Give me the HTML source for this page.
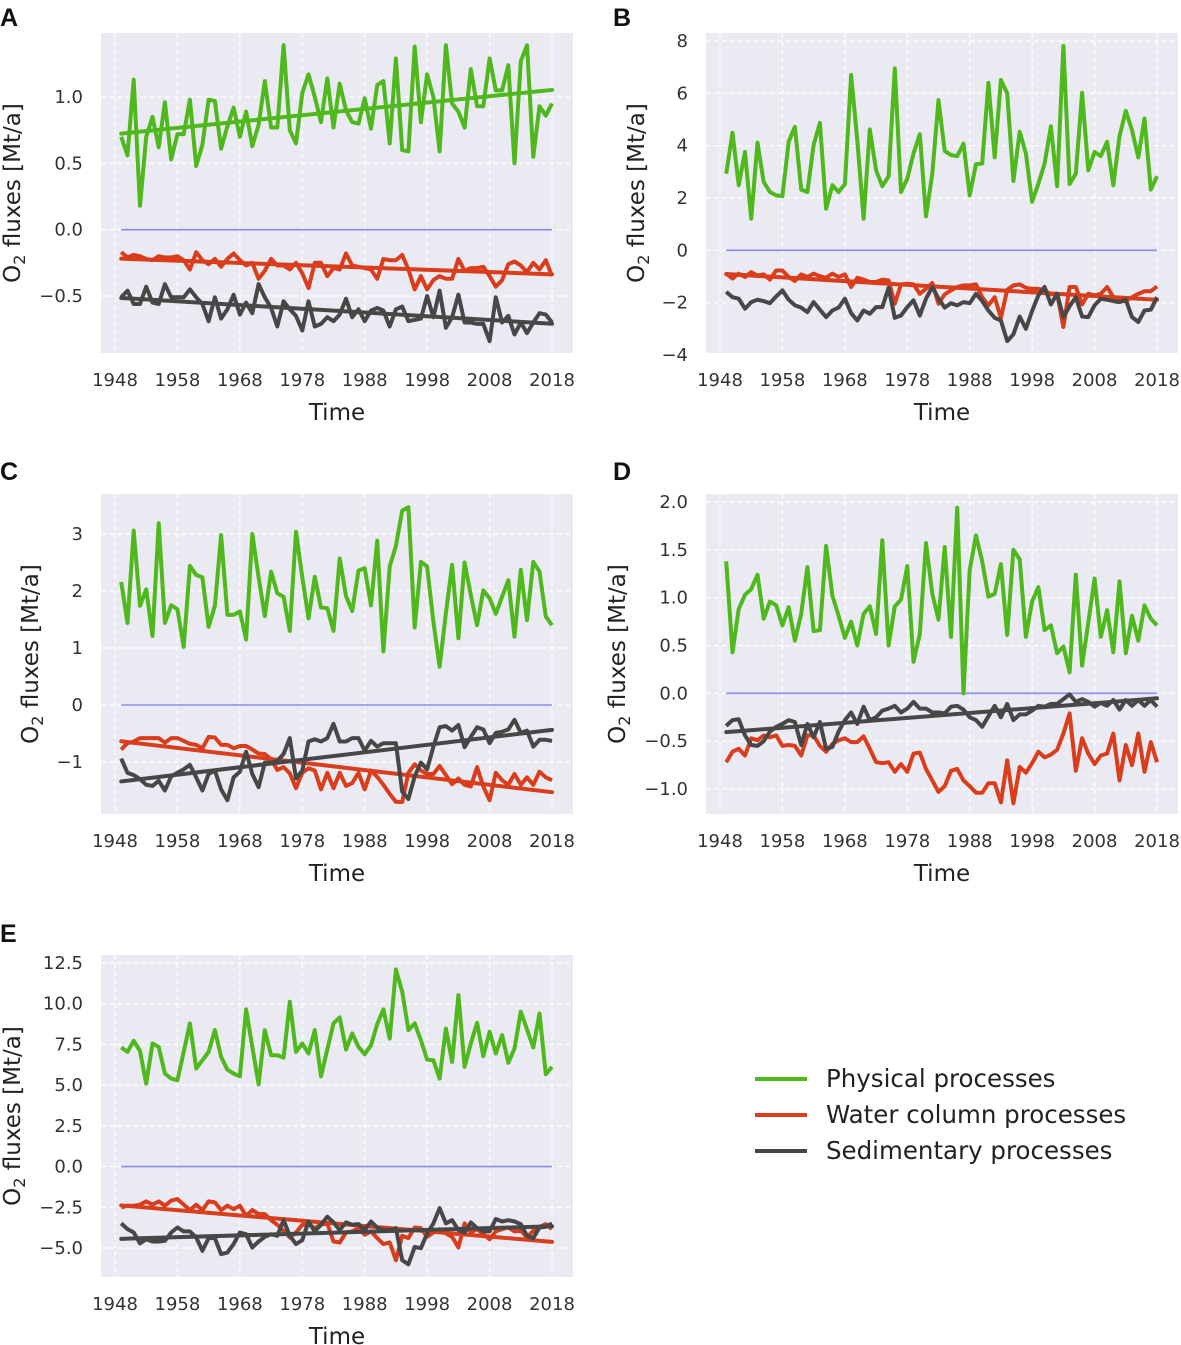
<!DOCTYPE html>
<html><head><meta charset="utf-8"><style>
body{margin:0;background:#fff;}
svg{display:block;font-family:"DejaVu Sans","Liberation Sans",sans-serif;}
</style></head><body>
<svg id="fig" width="1181" height="1345" viewBox="0 0 1181 1345" xmlns="http://www.w3.org/2000/svg"></svg>
<script>
const startYear = 1949;
const nYears = 70;
const xTickYears = [1948,1958,1968,1978,1988,1998,2008,2018];

const aPhysical = [0.70,0.56,1.13,0.18,0.70,0.85,0.62,0.96,0.53,0.72,0.72,0.98,0.48,0.64,0.98,0.97,0.61,0.78,0.92,0.70,0.89,0.63,0.79,1.12,0.77,0.77,1.39,0.75,0.65,1.03,1.17,1.00,0.81,1.14,0.77,1.10,0.90,0.81,0.80,0.99,0.76,1.09,1.12,0.65,1.29,0.60,0.59,1.38,0.81,1.17,1.00,0.59,1.39,0.95,0.89,0.77,1.21,0.93,0.93,1.29,1.05,1.05,1.24,0.50,1.27,1.39,0.55,0.93,0.86,0.95];
const aWater = [-0.17,-0.21,-0.19,-0.20,-0.22,-0.23,-0.20,-0.21,-0.21,-0.20,-0.23,-0.30,-0.17,-0.23,-0.26,-0.22,-0.28,-0.22,-0.18,-0.23,-0.27,-0.25,-0.37,-0.31,-0.22,-0.27,-0.27,-0.30,-0.25,-0.33,-0.44,-0.25,-0.25,-0.35,-0.29,-0.30,-0.18,-0.27,-0.28,-0.29,-0.30,-0.37,-0.22,-0.23,-0.23,-0.19,-0.30,-0.45,-0.35,-0.45,-0.38,-0.35,-0.37,-0.37,-0.22,-0.31,-0.29,-0.29,-0.28,-0.35,-0.43,-0.38,-0.26,-0.24,-0.27,-0.32,-0.25,-0.30,-0.23,-0.35];
const aSediment = [-0.51,-0.46,-0.56,-0.56,-0.43,-0.55,-0.56,-0.41,-0.51,-0.51,-0.51,-0.45,-0.51,-0.56,-0.69,-0.51,-0.67,-0.60,-0.49,-0.64,-0.55,-0.63,-0.41,-0.51,-0.59,-0.73,-0.54,-0.60,-0.65,-0.76,-0.54,-0.73,-0.71,-0.66,-0.69,-0.64,-0.52,-0.66,-0.60,-0.69,-0.61,-0.59,-0.61,-0.73,-0.60,-0.58,-0.69,-0.68,-0.67,-0.50,-0.66,-0.46,-0.74,-0.66,-0.49,-0.70,-0.70,-0.71,-0.71,-0.84,-0.51,-0.70,-0.65,-0.79,-0.70,-0.78,-0.70,-0.63,-0.64,-0.70];

const bPhysical = [2.93,4.49,2.49,3.76,1.21,4.11,2.61,2.23,2.10,2.07,4.15,4.72,2.32,2.23,4.02,4.87,1.59,2.49,2.23,2.53,6.70,4.21,1.21,4.62,3.06,2.45,2.83,6.95,2.23,2.74,3.70,4.44,1.30,2.93,5.74,3.80,3.64,3.60,4.08,2.10,3.29,3.32,6.40,3.55,6.51,6.00,2.65,4.53,3.70,1.85,2.55,3.32,4.74,2.45,7.81,2.53,2.93,6.02,3.06,3.76,3.60,4.15,2.49,4.36,5.33,4.59,3.55,5.04,2.32,2.83];
const bWater = [-0.89,-1.08,-0.89,-1.02,-0.83,-0.96,-0.92,-1.12,-0.77,-0.77,-1.02,-1.17,-0.92,-1.02,-0.89,-0.99,-1.05,-0.89,-1.02,-0.92,-1.40,-1.05,-1.12,-1.21,-1.21,-1.12,-1.15,-2.04,-1.30,-1.28,-1.30,-1.66,-1.47,-1.25,-2.04,-1.68,-1.53,-1.40,-1.34,-1.34,-1.30,-1.79,-2.10,-1.79,-2.58,-1.51,-1.34,-1.30,-1.43,-1.47,-1.47,-1.53,-1.68,-1.66,-2.93,-1.40,-1.40,-2.07,-1.66,-1.72,-1.66,-1.40,-1.79,-1.94,-1.94,-1.79,-1.66,-1.56,-1.56,-1.38];
const bSediment = [-1.59,-1.79,-1.85,-2.23,-1.98,-1.89,-1.94,-2.02,-1.76,-1.53,-1.89,-2.10,-2.19,-2.36,-1.98,-2.27,-2.55,-2.30,-2.19,-1.85,-2.40,-2.68,-2.30,-2.42,-2.17,-2.17,-1.43,-2.58,-2.49,-2.17,-1.91,-2.49,-1.85,-1.40,-1.85,-2.19,-2.02,-2.10,-1.98,-2.02,-1.66,-1.94,-2.30,-2.58,-2.68,-3.47,-3.21,-2.53,-3.00,-2.32,-1.72,-1.40,-2.07,-1.66,-2.55,-2.14,-1.79,-2.53,-2.55,-2.10,-1.85,-1.89,-1.94,-1.98,-1.89,-2.55,-2.74,-2.30,-2.27,-1.79];

const cPhysical = [2.16,1.44,3.06,1.74,2.03,1.21,3.19,1.44,1.75,1.68,1.02,2.44,2.28,2.24,1.37,1.74,2.98,1.58,1.58,1.64,1.15,3.00,2.24,1.56,2.34,1.96,1.90,1.30,3.04,2.24,1.52,2.25,1.71,1.70,1.30,2.57,1.91,1.65,2.36,2.40,1.75,2.88,0.94,2.43,2.79,3.41,3.47,1.36,2.51,2.43,1.46,0.67,1.61,2.46,1.17,2.50,1.93,1.40,2.01,1.87,1.60,1.90,2.19,1.20,2.37,1.49,2.51,2.34,1.55,1.40];
const cWater = [-0.78,-0.67,-0.64,-0.58,-0.58,-0.58,-0.58,-0.66,-0.58,-0.58,-0.63,-0.68,-0.70,-0.76,-0.56,-0.57,-0.70,-0.70,-0.76,-0.72,-0.72,-0.78,-0.85,-0.86,-0.95,-1.14,-1.09,-1.20,-1.46,-1.19,-1.11,-1.15,-1.48,-1.19,-1.46,-1.19,-1.42,-1.37,-1.19,-1.48,-1.15,-1.26,-1.40,-1.56,-1.70,-1.70,-1.19,-1.04,-1.15,-1.21,-1.21,-1.07,-1.23,-1.39,-1.29,-1.40,-1.43,-1.09,-1.43,-1.67,-1.19,-1.32,-1.40,-1.21,-1.40,-1.27,-1.40,-1.17,-1.27,-1.32];
const cSediment = [-0.94,-1.19,-1.23,-1.30,-1.40,-1.42,-1.33,-1.50,-1.25,-1.19,-1.13,-1.05,-1.27,-1.50,-1.21,-1.15,-1.48,-1.67,-1.27,-1.17,-0.82,-1.21,-1.44,-1.01,-1.01,-0.98,-0.86,-0.58,-1.29,-1.15,-0.64,-0.60,-0.64,-0.58,-0.33,-0.64,-0.64,-0.58,-0.58,-0.80,-0.63,-0.73,-0.67,-0.67,-0.67,-1.52,-1.65,-1.25,-1.01,-1.13,-0.73,-0.39,-0.37,-0.45,-0.35,-0.74,-0.56,-0.39,-0.43,-0.67,-0.49,-0.47,-0.43,-0.26,-0.49,-0.45,-0.73,-0.61,-0.61,-0.63];

const dPhysical = [1.38,0.43,0.88,1.03,1.09,1.24,0.78,0.96,0.92,0.71,0.90,0.55,0.83,1.32,0.65,0.66,1.54,1.02,0.81,0.58,0.75,0.50,0.83,0.91,0.62,1.60,0.50,0.91,0.98,1.33,0.33,0.62,1.57,1.04,0.77,1.53,0.59,1.94,0.00,1.29,1.65,1.38,1.01,1.04,1.35,0.61,1.50,1.40,0.59,0.96,1.11,0.66,0.71,0.42,0.49,0.22,1.24,0.29,0.74,1.20,0.59,0.87,0.43,1.17,0.42,0.81,0.55,0.92,0.78,0.71];
const dWater = [-0.72,-0.61,-0.58,-0.65,-0.47,-0.49,-0.44,-0.46,-0.44,-0.55,-0.54,-0.55,-0.65,-0.44,-0.44,-0.55,-0.61,-0.53,-0.49,-0.47,-0.51,-0.51,-0.45,-0.58,-0.72,-0.73,-0.72,-0.82,-0.74,-0.82,-0.63,-0.62,-0.79,-0.91,-1.03,-0.97,-0.81,-0.79,-0.91,-0.97,-1.04,-1.04,-0.94,-0.94,-1.14,-0.70,-1.15,-0.77,-0.83,-0.73,-0.61,-0.67,-0.64,-0.59,-0.42,-0.21,-0.81,-0.47,-0.63,-0.74,-0.65,-0.63,-0.42,-0.91,-0.54,-0.75,-0.42,-0.82,-0.51,-0.72];
const dSediment = [-0.34,-0.28,-0.27,-0.44,-0.54,-0.55,-0.50,-0.40,-0.35,-0.32,-0.28,-0.30,-0.54,-0.32,-0.46,-0.30,-0.58,-0.56,-0.40,-0.28,-0.20,-0.32,-0.14,-0.28,-0.25,-0.18,-0.16,-0.13,-0.20,-0.16,-0.09,-0.16,-0.16,-0.20,-0.20,-0.21,-0.14,-0.13,-0.17,-0.25,-0.28,-0.35,-0.24,-0.13,-0.25,-0.11,-0.28,-0.22,-0.22,-0.18,-0.13,-0.14,-0.11,-0.11,-0.06,-0.01,-0.09,-0.06,-0.09,-0.14,-0.10,-0.13,-0.07,-0.17,-0.07,-0.13,-0.07,-0.13,-0.07,-0.14];

const ePhysical = [7.31,7.04,7.72,7.10,5.09,7.56,7.35,5.71,5.40,5.30,7.04,8.79,6.02,6.53,7.04,8.38,6.74,5.95,5.71,5.54,9.65,7.35,5.05,8.38,6.84,6.84,6.69,10.12,7.04,7.56,6.94,8.38,5.54,7.19,8.79,9.16,7.19,8.17,7.35,6.90,7.45,8.75,9.65,7.86,12.11,10.74,8.38,8.79,7.76,6.57,6.53,5.40,8.48,6.43,10.53,6.12,7.56,8.83,6.78,8.28,6.94,8.07,6.37,7.25,9.51,8.42,7.31,9.40,5.67,6.12];
const eWater = [-2.51,-2.40,-2.40,-2.34,-2.14,-2.34,-2.14,-2.40,-2.09,-1.99,-2.34,-2.67,-2.34,-2.67,-2.14,-2.20,-2.67,-2.40,-2.61,-2.40,-3.02,-2.67,-2.92,-2.92,-3.29,-3.57,-3.94,-4.35,-4.05,-3.57,-3.57,-3.78,-3.57,-3.49,-4.60,-4.66,-4.05,-3.98,-3.78,-4.19,-3.98,-4.39,-4.76,-4.66,-5.75,-4.25,-4.39,-3.74,-3.78,-4.31,-4.05,-3.84,-4.11,-4.31,-4.97,-3.49,-4.05,-3.84,-4.15,-4.46,-3.98,-3.84,-3.74,-3.98,-3.94,-4.35,-3.94,-3.70,-3.53,-3.84];
const eSediment = [-3.49,-3.84,-4.05,-4.72,-4.46,-4.60,-4.60,-4.56,-4.05,-3.74,-3.98,-3.98,-4.35,-5.17,-4.39,-4.39,-5.38,-5.28,-4.76,-4.05,-4.15,-4.97,-4.60,-4.31,-4.15,-4.25,-3.29,-4.25,-4.76,-4.52,-3.37,-3.98,-3.57,-3.08,-3.43,-3.90,-3.43,-3.57,-3.53,-3.90,-3.37,-3.74,-3.90,-3.90,-3.78,-5.75,-6.00,-4.93,-5.01,-4.11,-3.49,-2.55,-3.49,-3.29,-3.90,-4.05,-3.43,-3.78,-3.98,-3.98,-3.22,-3.37,-3.29,-3.37,-3.53,-4.25,-4.39,-3.74,-3.70,-3.49];

const aTicks = [-0.5,0,0.5,1.0];
const aTickLabels = ["\u22120.5","0.0","0.5","1.0"];
const bTicks = [-4,-2,0,2,4,6,8];
const bTickLabels = ["\u22124","\u22122","0","2","4","6","8"];
const cTicks = [-1,0,1,2,3];
const cTickLabels = ["\u22121","0","1","2","3"];
const dTicks = [-1.0,-0.5,0,0.5,1.0,1.5,2.0];
const dTickLabels = ["\u22121.0","\u22120.5","0.0","0.5","1.0","1.5","2.0"];
const eTicks = [-5,-2.5,0,2.5,5,7.5,10,12.5];
const eTickLabels = ["\u22125.0","\u22122.5","0.0","2.5","5.0","7.5","10.0","12.5"];

const NS = "http://www.w3.org/2000/svg";
const svg = document.getElementById('fig');
const COLORS = {phys:"#4fb81c", water:"#d93d1b", sed:"#474747"};
function mk(tag, attrs, parent){
  const e = document.createElementNS(NS, tag);
  for (const k in attrs) e.setAttribute(k, attrs[k]);
  (parent||svg).appendChild(e);
  return e;
}
function fit(vals, yrs){
  const n = vals.length; let sx=0, sy=0, sxx=0, sxy=0;
  for (let i=0;i<n;i++){ sx+=yrs[i]; sy+=vals[i]; sxx+=yrs[i]*yrs[i]; sxy+=yrs[i]*vals[i]; }
  const b = (n*sxy - sx*sy)/(n*sxx - sx*sx); const a = (sy - b*sx)/n;
  return [a,b];
}
const years = [];
for (let i=0;i<nYears;i++) years.push(startYear+i);

function panel(cfg){
  const g = mk('g', {});
  
  
  const X = yr => cfg.x0 + (yr-1948)*(cfg.x1-cfg.x0)/70;
  const Y = v => cfg.ya + (v-cfg.va)*(cfg.yb-cfg.ya)/(cfg.vb-cfg.va);
  const bg = mk('rect', {x:cfg.L, y:cfg.T, width:cfg.R-cfg.L, height:cfg.B-cfg.T, fill:"#eaeaf2"}, g);
  
  
  xTickYears.forEach(yr=>{
    const gl = mk('line', {x1:X(yr), x2:X(yr), y1:cfg.T, y2:cfg.B, stroke:"#fff", "stroke-width":1.2, "stroke-dasharray":"5,3"}, g);
    
    
    const t = mk('text', {x:X(yr), y:cfg.B+33, "text-anchor":"middle", "font-size":18, fill:"#333"}, g);
    t.textContent = yr;
    
    
  });
  cfg.ticks.forEach((v,i)=>{
    const gl = mk('line', {x1:cfg.L, x2:cfg.R, y1:Y(v), y2:Y(v), stroke:"#fff", "stroke-width":1.2, "stroke-dasharray":"5,3"}, g);
    
    
    const t = mk('text', {x:cfg.L-18, y:Y(v)+6, "text-anchor":"end", "font-size":18, fill:"#333"}, g);
    t.textContent = cfg.labels[i];
    
    
  });
  const z = mk('line', {x1:X(years[0]), x2:X(years[nYears-1]), y1:Y(0), y2:Y(0), stroke:"#8b8bf0", "stroke-width":1.6}, g);
  
  
  [["phys",cfg.phys],["water",cfg.water],["sed",cfg.sed]].forEach(([k,vals])=>{
    const pts = vals.map((v,i)=>X(years[i]).toFixed(1)+","+Y(v).toFixed(1)).join(" ");
    const pl = mk('polyline', {points:pts, fill:"none", stroke:COLORS[k], "stroke-width":4, "stroke-linejoin":"round"}, g);
    
    
    if (cfg.trends.indexOf(k) >= 0) {
      const [a,b] = fit(vals, years);
      const y0 = years[0], y1 = years[nYears-1];
      const tl = mk('line', {x1:X(y0), x2:X(y1), y1:Y(a+b*y0), y2:Y(a+b*y1), stroke:COLORS[k], "stroke-width":4, "stroke-linecap":"round"}, g);
      
      
    }
  });
  const xt = mk('text', {x:(cfg.L+cfg.R)/2, y:cfg.B+67, "text-anchor":"middle", "font-size":23, fill:"#222"}, g);
  xt.textContent = "Time";
  
  
  const cy = (cfg.T+cfg.B)/2;
  const yt = mk('text', {x:0, y:0, transform:`translate(${cfg.ylx},${cy}) rotate(-90)`, "text-anchor":"middle", "font-size":23, fill:"#222"}, g);
  yt.innerHTML = 'O<tspan font-size="16" dy="5">2</tspan><tspan dy="-5"> fluxes [Mt/a]</tspan>';
  
  
  const lt = mk('text', {x:cfg.lx, y:cfg.ly, "font-size":25, "font-weight":"bold", fill:"#111", "font-family":"Liberation Sans, sans-serif"}, g);
  lt.textContent = cfg.id;
  
  
}

panel({id:"A", L:101,R:573,T:33,B:353, x0:115,x1:552, va:1.0,ya:97, vb:-0.5,yb:296, ticks:aTicks, labels:aTickLabels, phys:aPhysical, water:aWater, sed:aSediment, trends:["phys","water","sed"], ylx:20, lx:0, ly:26});
panel({id:"B", L:706,R:1178,T:33,B:353, x0:720,x1:1157, va:8,ya:41, vb:-4,yb:355, ticks:bTicks, labels:bTickLabels, phys:bPhysical, water:bWater, sed:bSediment, trends:["water"], ylx:644, lx:613, ly:26});
panel({id:"C", L:101,R:573,T:494,B:814, x0:115,x1:552, va:3,ya:534, vb:-1,yb:762, ticks:cTicks, labels:cTickLabels, phys:cPhysical, water:cWater, sed:cSediment, trends:["water","sed"], ylx:38, lx:0, ly:480});
panel({id:"D", L:706,R:1178,T:494,B:814, x0:720,x1:1157, va:2.0,ya:502, vb:-1.0,yb:789, ticks:dTicks, labels:dTickLabels, phys:dPhysical, water:dWater, sed:dSediment, trends:["sed"], ylx:625, lx:613, ly:480});
panel({id:"E", L:101,R:573,T:955,B:1277, x0:115,x1:552, va:12.5,ya:963, vb:-5,yb:1248, ticks:eTicks, labels:eTickLabels, phys:ePhysical, water:eWater, sed:eSediment, trends:["water","sed"], ylx:20, lx:0, ly:942});

const legendLabels = ["Physical processes","Water column processes","Sedimentary processes"];
const legendKeys = ["phys","water","sed"];
const lg = mk('g', {});


legendLabels.forEach((lab,i)=>{
  const y = 1079 + i*36;
  const ln = mk('line', {x1:755, x2:807, y1:y, y2:y, stroke:COLORS[legendKeys[i]], "stroke-width":4}, lg);
  
  
  const t = mk('text', {x:826, y:y+8, "font-size":24.5, fill:"#222"}, lg);
  t.textContent = lab;
  
  
});
</script>
</body></html>
